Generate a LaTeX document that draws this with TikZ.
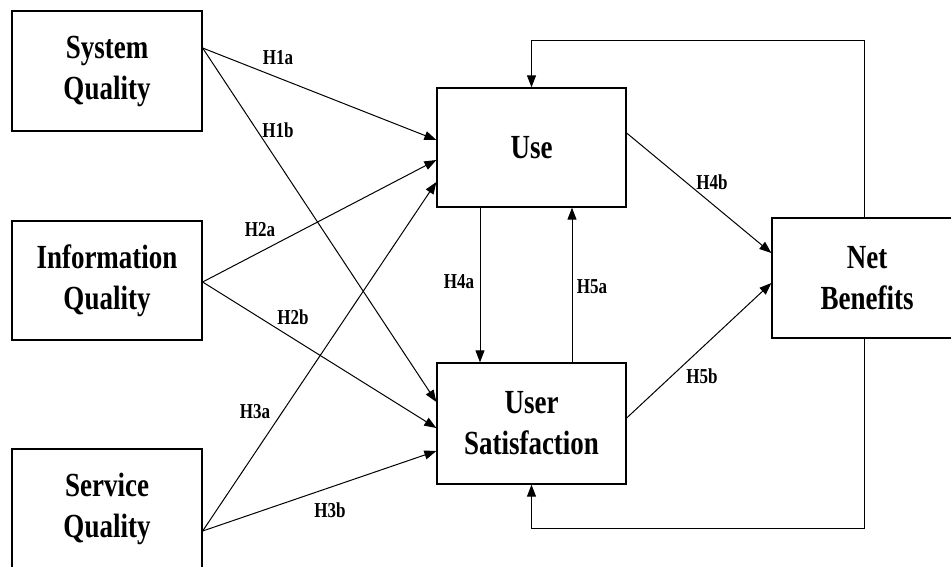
\documentclass[tikz,border=0pt]{standalone}
\usepackage{fontspec}
\setmainfont{Liberation Serif}
\usepackage{tikz}
\usetikzlibrary{arrows.meta,positioning,calc}

% taller letters, as in the picture
\newcommand{\tall}[1]{\scalebox{1}[1.25]{#1}}

\tikzset{
  box/.style={draw,line width=1.3pt,rectangle,align=center,font=\fontsize{27}{41}\selectfont\bfseries},
  hyp/.style={font=\fontsize{17}{20}\selectfont\bfseries},
  arr/.style={->,line width=1pt},
}

\begin{document}
\begin{tikzpicture}[x=1pt,y=-1pt,>={Triangle[length=12pt,width=9pt]}]
	\useasboundingbox (0,0) rectangle (951,566);
	\node [box,minimum width=190,minimum height=120] (sq) at (107,71) {\tall{System}\\\tall{Quality}};
	\node [box,minimum width=190,minimum height=119] (iq) at (107,280.5) {\tall{Information}\\\tall{Quality}};
	\node [box,minimum width=190,minimum height=126,text depth=14pt] (svq) at (107,512) {\tall{Service}\\\tall{Quality}};
	\node [box,minimum width=189,minimum height=119] (use) at (531.5,147.5) {\tall{Use}};
	\node [box,minimum width=189,minimum height=121] (us) at (531.5,423.5) {\tall{User}\\\tall{Satisfaction}};
	\node [box,minimum width=190,minimum height=120] (nb) at (867,278) {\tall{Net}\\\tall{Benefits}};

	\draw [arr] ([yshift=23pt]sq.east) -- ([yshift=7.5pt]use.west);
	\draw [arr] ([yshift=23pt]sq.east) -- ([yshift=21.5pt]us.west);
	\draw [arr] ([yshift=-1.5pt]iq.east) -- ([yshift=-12.5pt]use.west);
	\draw [arr] ([yshift=-1.5pt]iq.east) -- ([yshift=-4.5pt]us.west);
	\draw [arr] ([yshift=-19pt]svq.east) -- ([yshift=-34.5pt]use.west);
	\draw [arr] ([yshift=-19pt]svq.east) -- ([yshift=-27.5pt]us.west);
	\draw [arr] ([xshift=-51.5pt]use.south) -- ([xshift=-51.5pt]us.north);
	\draw [arr] ([xshift=40.5pt]us.north) -- ([xshift=40.5pt]use.south);
	\draw [arr] ([yshift=14.5pt]use.east) -- ([yshift=25pt]nb.west);
	\draw [arr] ([yshift=5.5pt]us.east) -- ([yshift=-5pt]nb.west);
	\draw [arr] ([xshift=-3pt]nb.north) -- ++(0,-177) -| (use.north);
	\draw [arr] ([xshift=-3pt]nb.south) -- ++(0,190) -| (us.south);

	\node [hyp] (h1a) at (278,58) {\tall{H1a}};
	\node [hyp] (h1b) at (278,130) {\tall{H1b}};
	\node [hyp] (h2a) at (260,230) {\tall{H2a}};
	\node [hyp] (h2b) at (293,317) {\tall{H2b}};
	\node [hyp] (h3a) at (255,412) {\tall{H3a}};
	\node [hyp] (h3b) at (330,510) {\tall{H3b}};
	\node [hyp] (h4a) at (459,282) {\tall{H4a}};
	\node [hyp] (h5a) at (592,287) {\tall{H5a}};
	\node [hyp] (h4b) at (712,182) {\tall{H4b}};
	\node [hyp] (h5b) at (702,376) {\tall{H5b}};
\end{tikzpicture}
\end{document}
